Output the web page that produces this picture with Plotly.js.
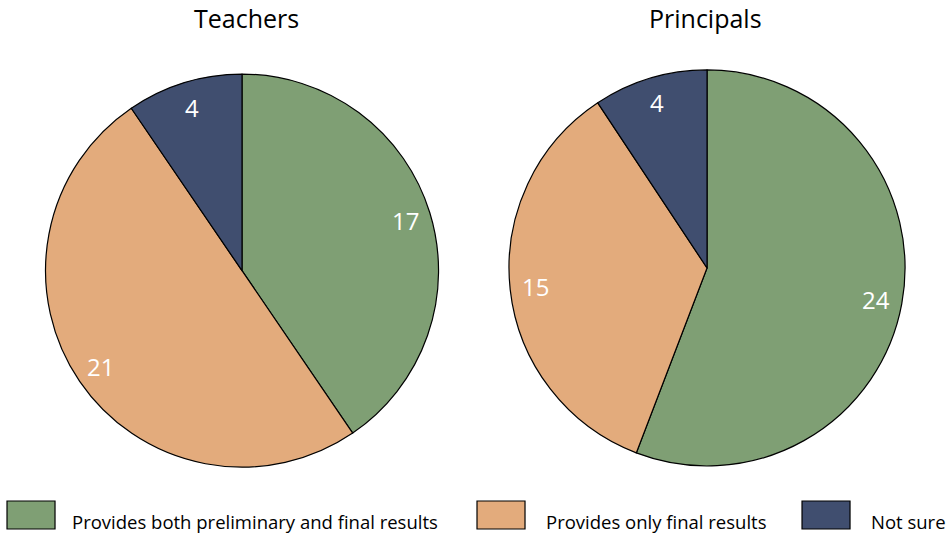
<!DOCTYPE html>
<html>
<head>
<meta charset="utf-8">
<script src="https://cdn.plot.ly/plotly-3.0.1.min.js"></script>
<style>
  html, body { margin: 0; padding: 0; background: #fff; }
  #chart { width: 947px; height: 537px; }
</style>
</head>
<body>
<div id="chart"></div>
<script>
// Survey responses: how results are provided
const categories = ["Provides both preliminary and final results", "Provides only final results", "Not sure"];
const teachers = [17, 21, 4];
const principals = [24, 15, 4];
const groupTitles = ["Teachers", "Principals"];
const colors = ["#7f9f74", "#e3ab7c", "#404e6f"];

const W = 947, H = 537;
const FONT = "'Open Sans', 'Noto Sans', sans-serif";

const groups = [
  { values: teachers, title: groupTitles[0], domain: { x: [0.0475, 0.4636], y: [0.130, 0.862] }, titleX: 0.2598 },
  { values: principals, title: groupTitles[1], domain: { x: [0.5375, 0.9557], y: [0.132, 0.870] }, titleX: 0.7455 }
];

const data = groups.map(g => ({
  type: "pie",
  labels: categories,
  values: g.values,
  sort: false,
  direction: "clockwise",
  rotation: 0,
  domain: g.domain,
  marker: { colors: colors, line: { color: "#000", width: 1.2 } },
  textinfo: "none",
  hoverinfo: "label+value",
  showlegend: false
}));

const annotations = [];

// Value labels, placed toward the rim at each slice's middle angle
groups.forEach(g => {
  const cx = (g.domain.x[0] + g.domain.x[1]) / 2;
  const cy = (g.domain.y[0] + g.domain.y[1]) / 2;
  const rPx = Math.min((g.domain.x[1] - g.domain.x[0]) * W, (g.domain.y[1] - g.domain.y[0]) * H) / 2;
  const total = g.values.reduce((a, b) => a + b, 0);
  let acc = 0;
  g.values.forEach(v => {
    const mid = (acc + v / 2) / total * 2 * Math.PI;
    acc += v;
    const d = 0.87 * rPx;
    annotations.push({
      text: String(v), xref: "paper", yref: "paper",
      x: cx + d * Math.sin(mid) / W, y: cy + d * Math.cos(mid) / H,
      xanchor: "center", yanchor: "middle", showarrow: false,
      font: { size: 24, color: "#fff", family: FONT }
    });
  });
  annotations.push({
    text: g.title, xref: "paper", yref: "paper", x: g.titleX, y: 0.967,
    xanchor: "center", yanchor: "middle", showarrow: false,
    font: { size: 25, color: "#000", family: FONT }
  });
});

// Legend drawn as outlined boxes with captions along the bottom
const legendBoxes = [[0.0074, 0.0581], [0.5037, 0.5544], [0.8469, 0.8976]];
const legendTextX = [0.0740, 0.5745, 0.9177];
const shapes = legendBoxes.map((b, i) => ({
  type: "rect", xref: "paper", yref: "paper",
  x0: b[0], x1: b[1], y0: 0.0149, y1: 0.0670,
  fillcolor: colors[i], line: { color: "#000", width: 1.2 }
}));
categories.forEach((c, i) => {
  annotations.push({
    text: c, xref: "paper", yref: "paper",
    x: legendTextX[i], y: 0.028,
    xanchor: "left", yanchor: "middle", showarrow: false,
    font: { size: 18.5, color: "#000", family: FONT }
  });
});

const layout = {
  width: W, height: H,
  margin: { l: 0, r: 0, t: 0, b: 0 },
  paper_bgcolor: "#fff",
  showlegend: false,
  shapes: shapes,
  annotations: annotations
};

Plotly.newPlot("chart", data, layout, { displayModeBar: false, staticPlot: true });
</script>
</body>
</html>
